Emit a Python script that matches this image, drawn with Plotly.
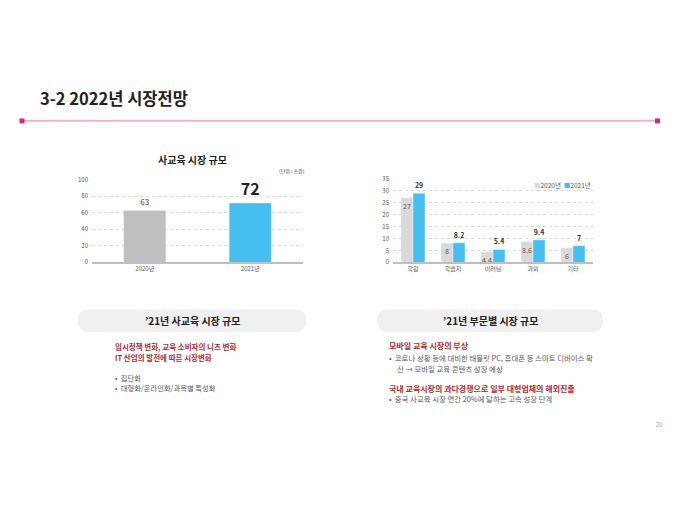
import plotly.graph_objects as go

W, H = 680, 510
FONT = "Noto Sans CJK KR"

# 데이터
total_years = ["2020년", "2021년"]
total_values = [63, 72]

segments = ["학원", "학습지", "이러닝", "과외", "기타"]
seg_2020 = [27, 8, 4.4, 8.6, 6]
seg_2021 = [29, 8.2, 5.4, 9.4, 7]

left_points = ["입시정책 변화, 교육 소비자의 니즈 변화", "IT 산업의 발전에 따른 시장변화"]
left_bullets = ["집단화", "대형화/온라인화/과목별 특성화"]

C2020 = "#d9d9d9"
C2021 = "#45bff0"


def px(x):
    return x / W


def py(y):
    return 1 - y / H


def pill(x0, y0, x1, y1, r):
    # 둥근 사각형 (paper 좌표)
    rx, ry = r / W, r / H
    a, b, c, d = px(x0), py(y1), px(x1), py(y0)
    return (f"M {a+rx},{b} L {c-rx},{b} Q {c},{b} {c},{b+ry} L {c},{d-ry} "
            f"Q {c},{d} {c-rx},{d} L {a+rx},{d} Q {a},{d} {a},{d-ry} "
            f"L {a},{b+ry} Q {a},{b} {a+rx},{b} Z")


fig = go.Figure()

# --- 사교육 시장 규모 ---
fig.add_trace(go.Bar(
    x=total_years, y=total_values, width=0.4,
    marker_color=["#bfbfbf", C2021],
    text=[str(total_values[0]), f"<b>{total_values[1]}</b>"],
    textposition="outside", constraintext="none",
    textfont=dict(size=[8, 16], color=["#404040", "#222222"], family=FONT),
    cliponaxis=False, showlegend=False, hoverinfo="skip",
    xaxis="x", yaxis="y",
))

# --- 부문별 시장 규모 ---
fig.add_trace(go.Bar(
    x=segments, y=seg_2020, name="2020년",
    marker_color=C2020,
    text=[f"{v:g}" for v in seg_2020],
    textposition="inside", insidetextanchor="end", textangle=0, constraintext="none",
    textfont=dict(size=7, color="#595959", family=FONT),
    showlegend=False, xaxis="x2", yaxis="y2",
))
fig.add_trace(go.Bar(
    x=segments, y=seg_2021, name="2021년",
    marker_color=C2021,
    text=[f"<b>{v:g}</b>" for v in seg_2021],
    textposition="outside", textangle=0, constraintext="none",
    textfont=dict(size=7, color="#333333", family=FONT),
    cliponaxis=False, showlegend=False,
    xaxis="x2", yaxis="y2",
))

tick_font = dict(size=6, color="#595959", family=FONT)
grid = dict(showgrid=True, gridcolor="#d9d9d9", griddash="dot", gridwidth=1,
            zeroline=False, tickfont=tick_font, ticks="", fixedrange=True,
            ticklabelstandoff=3)
xax = dict(showline=True, linecolor="#bfbfbf", linewidth=1.5, tickfont=tick_font,
           ticks="", showgrid=False, fixedrange=True)

shapes = [
    dict(type="line", xref="paper", yref="paper", x0=px(22), x1=px(657),
         y0=py(118), y1=py(118), line=dict(color="#e377c2", width=1)),
    dict(type="rect", xref="paper", yref="paper", x0=px(19.5), x1=px(24.5),
         y0=py(115.5), y1=py(120.5), fillcolor="#d6247e", line_width=0),
    dict(type="rect", xref="paper", yref="paper", x0=px(655), x1=px(660),
         y0=py(115.5), y1=py(120.5), fillcolor="#d6247e", line_width=0),
    dict(type="path", xref="paper", yref="paper", path=pill(78, 310, 306, 333, 11),
         fillcolor="#f0f0f0", line_width=0),
    dict(type="path", xref="paper", yref="paper", path=pill(377, 310, 603, 333, 11),
         fillcolor="#f0f0f0", line_width=0),
]

red = "#b22a2e"
grey = "#595959"


def note(x, y, text, size=7.5, color=grey, xanchor="left", bold=False):
    return dict(xref="paper", yref="paper", x=px(x), y=py(y), text=f"<b>{text}</b>" if bold else text,
                showarrow=False, xanchor=xanchor, yanchor="middle",
                font=dict(size=size, color=color, family=FONT))


legend_txt = (f"<span style='color:{C2020}'>■</span>2020년  "
              f"<span style='color:{C2021}'>■</span>2021년")

annotations = [
    note(38, 95, "3-2 2022년 시장전망", size=16.5, color="#222222", bold=True),
    note(192, 157, "사교육 시장 규모", size=10, color="#222222", xanchor="center", bold=True),
    note(307, 169, "(단위 : 조원)", size=5, color="#404040", xanchor="right"),
    note(593, 183, legend_txt, size=6.5, color=grey, xanchor="right"),
    note(192, 321, "’21년 사교육 시장 규모", size=10, color="#222222", xanchor="center", bold=True),
    note(490, 321, "’21년 부문별 시장 규모", size=10, color="#222222", xanchor="center", bold=True),
    note(113, 348, left_points[0], size=7.5, color=red, bold=True),
    note(113, 359, left_points[1], size=7.5, color=red, bold=True),
    note(113, 380, "•  " + left_bullets[0], size=7.3),
    note(113, 390, "•  " + left_bullets[1], size=7.3),
    note(387, 347, "모바일 교육 시장의 부상", size=8, color=red, bold=True),
    note(387, 359, "•  코로나 상황 등에 대비한 태블릿 PC, 휴대폰 등 스마트 디바이스 확", size=7.4),
    note(395, 370, "산 → 모바일 교육 콘텐츠 성장 예상", size=7.4),
    note(387, 390, "국내 교육시장의 과다경쟁으로 일부 대형업체의 해외진출", size=8, color=red, bold=True),
    note(387, 401, "•  중국 사교육 시장 연간 20%에 달하는 고속 성장 단계", size=7.4),
    note(659, 427, "20", size=6, color="#a6a6a6", xanchor="center"),
]

fig.update_layout(
    width=W, height=H, margin=dict(l=0, r=0, t=0, b=0),
    paper_bgcolor="white", plot_bgcolor="white",
    font=dict(family=FONT),
    barmode="group",
    bargap=0.4, bargroupgap=0,
    showlegend=False,
    xaxis=dict(domain=[px(92), px(303)], anchor="y", **xax),
    yaxis=dict(domain=[py(262), py(178)], range=[0, 100], dtick=20, anchor="x", **grid),
    xaxis2=dict(domain=[px(393), px(593)], anchor="y2", **xax),
    yaxis2=dict(domain=[py(262), py(177)], range=[0, 35], dtick=5, anchor="x2", **grid),
    shapes=shapes, annotations=annotations,
)

# 페이지 기본 여백 제거
fig.write_html("out.html", config={"displayModeBar": False},
               post_script="document.body.style.margin='0';")
